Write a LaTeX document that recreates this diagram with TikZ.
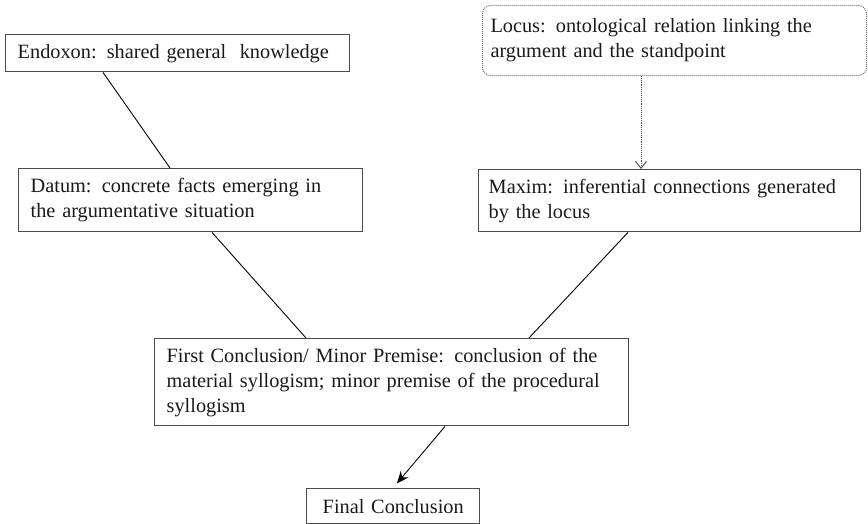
\documentclass[tikz,border=0pt]{standalone}
\usepackage{fontspec}
\setmainfont{Liberation Serif}
\usetikzlibrary{arrows.meta}
\definecolor{boxgray}{HTML}{4A4A4A}
\definecolor{txtgray}{HTML}{1A1A1A}
\tikzset{
  box/.style={draw=boxgray, line width=1.4pt, rectangle, anchor=north west,
    inner xsep=12pt, inner ysep=2pt, align=left, text=txtgray,
    font=\fontsize{20.3pt}{25pt}\selectfont},
  locusbox/.style={box, draw=boxgray!80, line width=1pt, densely dotted, rounded corners=8pt, inner xsep=8pt},
  conn/.style={draw=black, line width=0.9pt},
  dotconn/.style={draw=boxgray, line width=0.9pt, densely dotted, -{Straight Barb[length=7pt,width=11pt,line width=0.9pt]}},
  arrconn/.style={draw=black, line width=0.9pt, -{Stealth[length=12pt,width=10pt]}}
}
\begin{document}
\begin{tikzpicture}[x=1pt,y=-1pt]
\useasboundingbox (0,0) rectangle (868,524);
\fill[white] (0,0) rectangle (868,524);
\node[box, minimum width=344pt, minimum height=37pt, text width=320pt] (endoxon) at (5,34)
  {Endoxon: shared general\ \ knowledge};
\node[locusbox, minimum width=384pt, minimum height=70pt, text width=368pt] (locus) at (482,5)
  {Locus: ontological relation linking the\\argument and the standpoint};
\node[box, minimum width=344pt, minimum height=63pt, text width=320pt] (datum) at (18,168)
  {Datum: concrete facts emerging in\\the argumentative situation};
\node[box, minimum width=382pt, minimum height=62pt, text width=362pt, inner xsep=10pt] (maxim) at (478,169)
  {Maxim: inferential connections generated\\by the locus};
\node[box, minimum width=474pt, minimum height=87pt, text width=450pt] (first) at (154,338)
  {First Conclusion/ Minor Premise: conclusion of the\\material syllogism; minor premise of the procedural\\syllogism};
\node[box, minimum width=173pt, minimum height=35pt, text width=149pt, align=center] (final) at (306,488)
  {Final Conclusion};
\draw[conn] ([xshift=98pt]endoxon.south west) -- ([xshift=152pt]datum.north west);
\draw[conn] ([xshift=194pt]datum.south west) -- ([xshift=152pt]first.north west);
\draw[conn] ([xshift=150pt]maxim.south west) -- ([xshift=375pt]first.north west);
\draw[dotconn] ([xshift=159pt]locus.south west) -- ([xshift=163pt]maxim.north west);
\draw[arrconn, shorten >=6pt] ([xshift=291pt]first.south west) -- ([xshift=87pt]final.north west);
\end{tikzpicture}
\end{document}
